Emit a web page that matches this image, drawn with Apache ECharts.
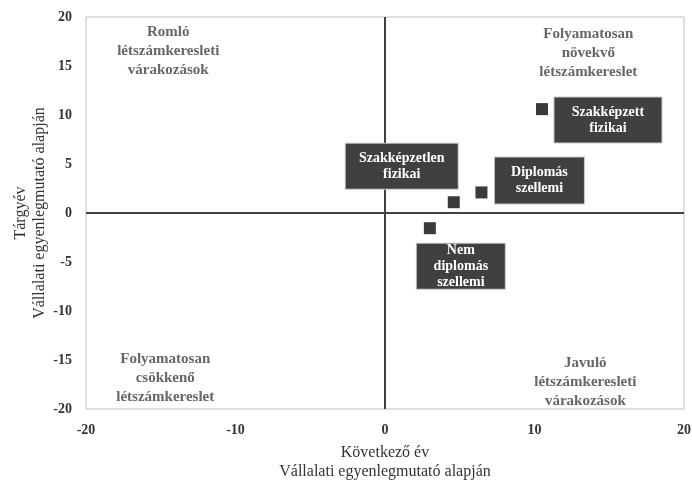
<!DOCTYPE html>
<html><head><meta charset="utf-8">
<script src="https://cdn.jsdelivr.net/npm/echarts@6/dist/echarts.min.js"></script>
<style>html,body{margin:0;padding:0;background:#fff}#c{width:692px;height:484px}</style>
</head><body><div id="c"></div>
<script>
// Data
const pointNames = ['Szakképzett\nfizikai', 'Diplomás\nszellemi', 'Szakképzetlen\nfizikai', 'Nem\ndiplomás\nszellemi'];
const xValues = [10.5, 6.45, 4.6, 3.0];
const yValues = [10.6, 2.1, 1.1, -1.55];
const quadrantTexts = ['Romló\nlétszámkeresleti\nvárakozások', 'Folyamatosan\nnövekvő\nlétszámkereslet', 'Folyamatosan\ncsökkenő\nlétszámkereslet', 'Javuló\nlétszámkeresleti\nvárakozások'];
const quadrantX = [-14.5, 13.6, -14.7, 13.4];
const quadrantY = [16.5, 16.3, -16.8, -17.3];
const axisMin = -20, axisMax = 20;
const xInterval = 10, yInterval = 5;
const xTitle = 'Következő év\nVállalati egyenlegmutató alapján';
const yTitle = 'Tárgyév\nVállalati egyenlegmutató alapján';

// label box layout (offset from point centre, box size)
const labelLayout = [
  {offset: [66, 11], w: 109, h: 47},
  {offset: [58, -12], w: 91, h: 48},
  {offset: [-52, -36], w: 114, h: 47},
  {offset: [31, 38], w: 90, h: 47}
];
const FONT = '"Liberation Serif", "DejaVu Serif", serif';

const pts = xValues.map((x, i) => ({
  value: [x, yValues[i]],
  label: {
    show: true,
    position: 'inside',
    offset: labelLayout[i].offset,
    formatter: pointNames[i],
    width: labelLayout[i].w - 2,
    height: labelLayout[i].h - 2,
    align: 'center',
    verticalAlign: 'middle',
    backgroundColor: '#404040',
    borderColor: '#c8c8c8',
    borderWidth: 1,
    color: '#ffffff',
    fontFamily: FONT,
    fontWeight: 'bold',
    fontSize: 14,
    lineHeight: 16
  }
}));

const quad = quadrantX.map((x, i) => ({
  value: [x, quadrantY[i]],
  label: {
    show: true, position: 'inside', formatter: quadrantTexts[i],
    color: '#404040', fontFamily: FONT, fontWeight: 'bold', fontSize: 15, lineHeight: 19, align: 'center'
  }
}));

const chart = echarts.init(document.getElementById('c'), null, {renderer: 'canvas'});
chart.setOption({
  animation: false,
  grid: {left: 86, right: 8, top: 17, bottom: 75, containLabel: false, outerBoundsMode: 'none',
    show: true, borderColor: '#c0c0c0', borderWidth: 1, backgroundColor: 'transparent'},
  xAxis: {
    type: 'value', min: axisMin, max: axisMax, interval: xInterval,
    axisLine: {show: false, onZero: false}, axisTick: {show: false}, splitLine: {show: false},
    axisLabel: {color: '#333', fontFamily: FONT, fontWeight: 'bold', fontSize: 14, margin: 14},
    name: xTitle, nameLocation: 'middle', nameGap: 34, nameMoveOverlap: false,
    nameTextStyle: {color: '#333', fontFamily: FONT, fontSize: 16, lineHeight: 19}
  },
  yAxis: {
    type: 'value', min: axisMin, max: axisMax, interval: yInterval,
    axisLine: {show: false, onZero: false}, axisTick: {show: false}, splitLine: {show: false},
    axisLabel: {color: '#333', fontFamily: FONT, fontWeight: 'bold', fontSize: 14, margin: 14},
    name: yTitle, nameLocation: 'middle', nameGap: 37, nameMoveOverlap: false,
    nameTextStyle: {color: '#333', fontFamily: FONT, fontSize: 16, lineHeight: 19}
  },
  series: [
    {
      type: 'scatter', data: quad, symbolSize: 0, silent: true, z: 1
    },
    {
      type: 'scatter', data: pts, symbol: 'rect', symbolSize: 12,
      itemStyle: {color: '#3a3a3a', opacity: 1}, z: 5,
      markLine: {
        silent: true, symbol: 'none', label: {show: false},
        lineStyle: {color: '#404040', width: 2, type: 'solid', opacity: 1},
        data: [{xAxis: 0}, {yAxis: 0}]
      }
    }
  ]
});
</script></body></html>
